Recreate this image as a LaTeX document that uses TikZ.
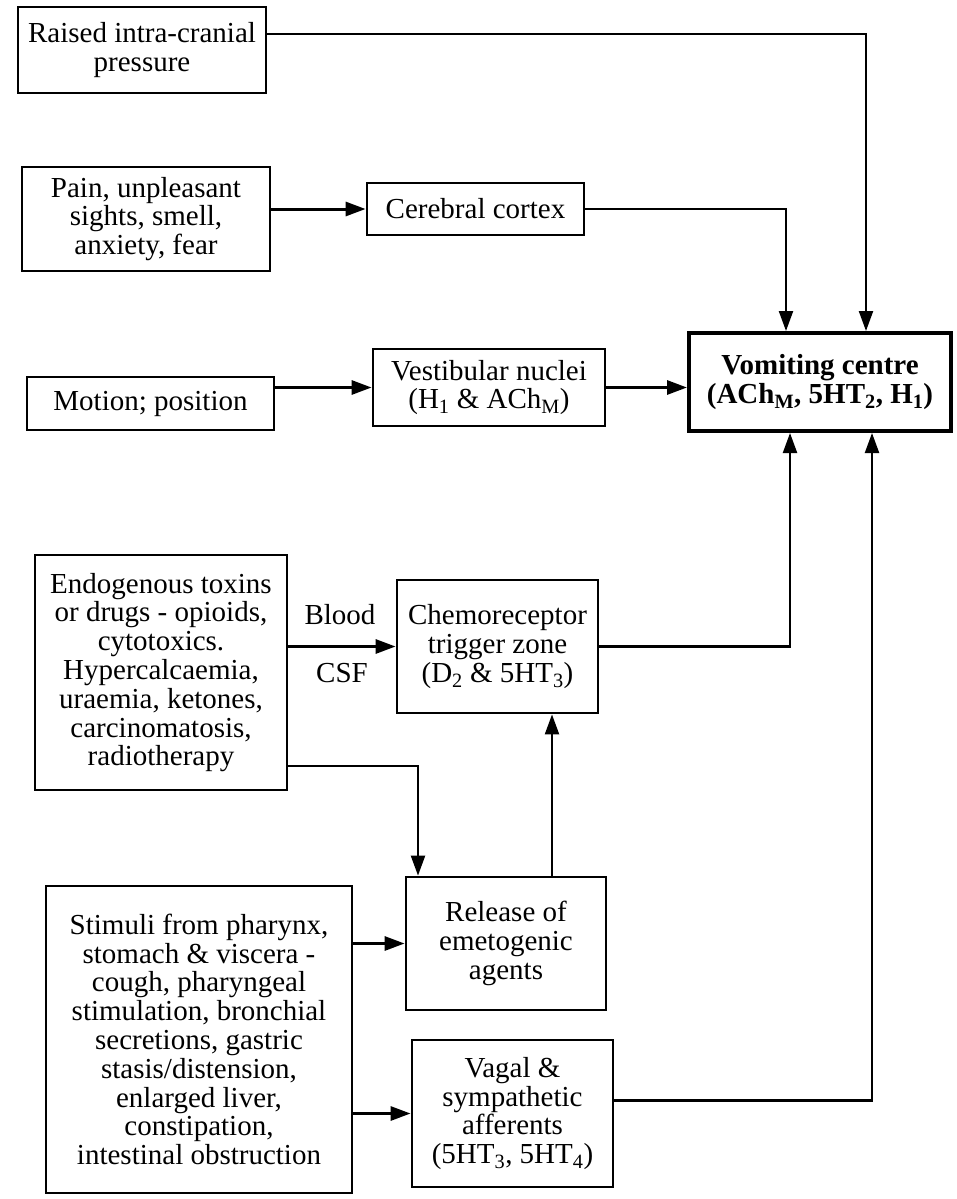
\documentclass[tikz,border=0pt]{standalone}
\usepackage{fontspec}
\setmainfont{Liberation Serif}
\usetikzlibrary{arrows.meta,calc}
\begin{document}
\begin{tikzpicture}[x=1pt,y=-1pt,
  box/.style={draw, line width=2.8pt, align=center, inner sep=0pt,
    font=\fontsize{29}{28.8}\selectfont},
  tip/.style={-{Triangle[length=20pt,width=14pt]}},
  main/.style={line width=3pt, tip},
  loop/.style={line width=2.2pt, tip},
  lbl/.style={font=\fontsize{29}{28.8}\selectfont, inner sep=0pt}]
\path[use as bounding box, fill=white] (0,0) rectangle (956,1199);

\node[box, minimum width=248pt, minimum height=86pt] (raised) at (142,50) {Raised intra-cranial\\pressure};
\node[box, minimum width=248pt, minimum height=104pt] (pain) at (146,219) {Pain, unpleasant\\sights, smell,\\anxiety, fear};
\node[box, minimum width=217pt, minimum height=52pt] (cortex) at (475.5,209) {Cerebral cortex};
\node[box, minimum width=247pt, minimum height=53pt] (motion) at (150.5,403.5) {Motion; position};
\node[box, minimum width=232pt, minimum height=77pt] (vestib) at (489,387.5) {Vestibular nuclei\\(H\textsubscript{1} \& ACh\textsubscript{M})};
\node[box, line width=4pt, minimum width=262pt, minimum height=98pt, font=\fontsize{29}{28.8}\selectfont\bfseries] (vomit) at (820,382) {Vomiting centre\\(ACh\textsubscript{M}, 5HT\textsubscript{2}, H\textsubscript{1})};
\node[box, minimum width=252pt, minimum height=235pt] (endo) at (161,672.5) {Endogenous toxins\\or drugs - opioids,\\cytotoxics.\\Hypercalcaemia,\\uraemia, ketones,\\carcinomatosis,\\radiotherapy};
\node[box, minimum width=201pt, minimum height=133pt] (ctz) at (497.5,646.5) {Chemoreceptor\\trigger zone\\(D\textsubscript{2} \& 5HT\textsubscript{3})};
\node[box, minimum width=200pt, minimum height=133pt] (release) at (506,943.5) {Release of\\emetogenic\\agents};
\node[box, minimum width=306pt, minimum height=307pt] (stim) at (199,1039.5) {Stimuli from pharynx,\\stomach \& viscera -\\cough, pharyngeal\\stimulation, bronchial\\secretions, gastric\\stasis/distension,\\enlarged liver,\\constipation,\\intestinal obstruction};
\node[box, minimum width=201pt, minimum height=147pt] (vagal) at (512.5,1113.5) {Vagal \&\\sympathetic\\afferents\\(5HT\textsubscript{3}, 5HT\textsubscript{4})};

\node[lbl] (blood) at (340,615) {Blood};
\node[lbl] (csf) at (342,673) {CSF};

\coordinate (rup) at ([xshift=46pt]release.north);

% connectors
\draw[loop] ([yshift=16pt]raised.east) -| ([xshift=46pt]vomit.north);
\draw[loop] (cortex.east) -| ([xshift=-34pt]vomit.north);
\draw[main] (pain.east |- cortex.west) -- (cortex.west);
\draw[main] (motion.east |- vestib.west) -- (vestib.west);
\draw[main] (vestib.east) -- (vomit.west |- vestib.east);
\draw[main] (endo.east |- ctz.west) -- (ctz.west);
\draw[loop] (ctz.east) -| ([xshift=-30pt]vomit.south);
\draw[loop] ([yshift=-93.5pt]endo.east) -| ([xshift=-88pt]release.north);
\draw[loop] (rup) -- (rup |- ctz.south);
\draw[main] (stim.east |- release.west) -- (release.west);
\draw[main] (stim.east |- vagal.west) -- (vagal.west);
\draw[loop] ([yshift=13pt]vagal.east) -| ([xshift=52pt]vomit.south);
\end{tikzpicture}
\end{document}
